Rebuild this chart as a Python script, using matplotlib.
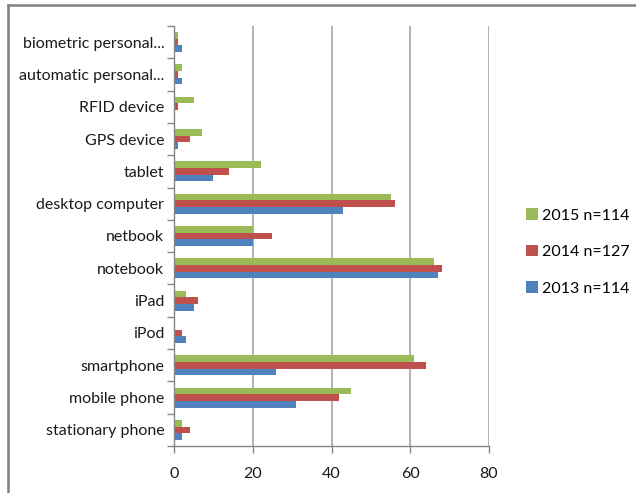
import matplotlib
matplotlib.use("Agg")
import matplotlib.pyplot as plt
from matplotlib.lines import Line2D
from matplotlib.patches import Patch
import numpy as np

categories = ["biometric personal...", "automatic personal...", "RFID device", "GPS device",
              "tablet", "desktop computer", "netbook", "notebook", "iPad", "iPod",
              "smartphone", "mobile phone", "stationary phone"]
v2015 = [1, 2, 5, 7, 22, 55, 20, 66, 3, 0, 61, 45, 2]
v2014 = [1, 1, 1, 4, 14, 56, 25, 68, 6, 2, 64, 42, 4]
v2013 = [2, 2, 0, 1, 10, 43, 20, 67, 5, 3, 26, 31, 2]
series_labels = ["2015 n=114", "2014 n=127", "2013 n=114"]
xticks = [0, 20, 40, 60, 80]

colors = ["#9BBB59", "#C0504D", "#4F81BD"]
font = ["Lato", "DejaVu Sans"]
plt.rcParams['font.family'] = font
fs = 11.5

fig = plt.figure(figsize=(6.36, 4.93), dpi=100)
ax = fig.add_axes([174/636, 47/493, 315/636, 420/493])

n = len(categories)
y = np.arange(n)
h = 0.207
for vals, off, c in zip([v2015, v2014, v2013], [-h, 0, h], colors):
    ax.barh(y + off, vals, height=h, color=c, edgecolor='none', zorder=3)

ax.set_ylim(n - 0.5, -0.5)
ax.set_xlim(0, 80)
ax.set_yticks(y)
ax.set_yticklabels(categories, fontsize=fs, color="#1a1a1a")
ax.set_yticks(np.arange(-0.5, n, 1), minor=True)
ax.tick_params(axis='y', which='major', length=0, pad=7)
ax.tick_params(axis='y', which='minor', length=5, color='#868686', width=1)
ax.set_xticks(xticks)
ax.set_xticklabels([str(t) for t in xticks], fontsize=fs, color="#1a1a1a")
ax.tick_params(axis='x', length=5, color='#868686', width=1, pad=10)
ax.grid(axis='x', color='#a6a6a6', linewidth=1.2, zorder=0)
for s in ['top', 'right']:
    ax.spines[s].set_visible(False)
for s in ['left', 'bottom']:
    ax.spines[s].set_color('#868686')
    ax.spines[s].set_linewidth(1)
    ax.spines[s].set_zorder(4)

handles = [Patch(facecolor=c, edgecolor='none') for c in colors]
fig.legend(handles, series_labels, loc='center left', bbox_to_anchor=(512/636, 1 - 252/493),
           frameon=False, fontsize=fs, handlelength=0.7, handleheight=0.7,
           handletextpad=0.25, labelspacing=1.4)

fig.add_artist(Line2D([7.5/636, 1], [1 - 4.5/493, 1 - 4.5/493], color='#808080', lw=1.8))
fig.add_artist(Line2D([7.5/636, 7.5/636], [0, 1 - 4.5/493], color='#808080', lw=1.8))

fig.savefig("out.png", dpi=100)
